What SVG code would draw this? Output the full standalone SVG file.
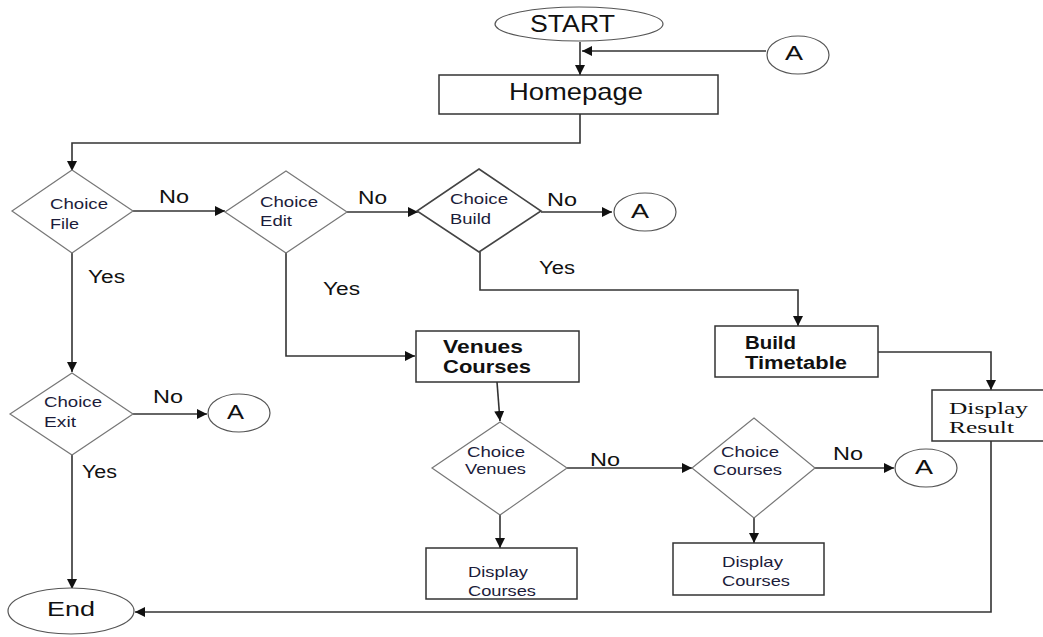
<svg xmlns="http://www.w3.org/2000/svg" width="1043" height="637" viewBox="0 0 1043 637">
<style>
text{font-family:"Liberation Sans",Arial,sans-serif;fill:#111}
.box{fill:#fff;stroke:#333;stroke-width:1.5}
.dia{fill:#fff;stroke:#777;stroke-width:1.2}
.dia2{fill:#fff;stroke:#444;stroke-width:1.6}
.ov{fill:#fff;stroke:#555;stroke-width:1.2}
.ln{fill:none;stroke:#333;stroke-width:1.6}
.dt{font-size:15px;fill:#1c1c3a}
.lb{font-size:18px}
.bt{font-size:18px;font-weight:bold}
.se{font-family:"Liberation Serif","Times New Roman",serif;font-size:17px}
.big{font-size:24px}
.a{font-size:21px}
</style>
<defs>
<marker id="ar" markerWidth="10" markerHeight="10" refX="10" refY="5" orient="auto" markerUnits="userSpaceOnUse" viewBox="0 0 10 10">
<path d="M0,0 L10,5 L0,10 z" fill="#111"/>
</marker>
</defs>
<g id="connectors">
<line class="ln" x1="580" y1="42" x2="580" y2="75" marker-end="url(#ar)"/>
<line class="ln" x1="766" y1="51" x2="582" y2="51" marker-end="url(#ar)"/>
<polyline class="ln" points="580,114 580,143 72,143 72,171" marker-end="url(#ar)"/>
<line class="ln" x1="133" y1="211" x2="225" y2="211" marker-end="url(#ar)"/>
<line class="ln" x1="347" y1="212" x2="418" y2="212" marker-end="url(#ar)"/>
<line class="ln" x1="541" y1="212" x2="612" y2="212" marker-end="url(#ar)"/>
<polyline class="ln" points="72,253 72,372" marker-end="url(#ar)"/>
<polyline class="ln" points="286,253 286,356 415,356" marker-end="url(#ar)"/>
<polyline class="ln" points="480,252 480,290 798,290 798,326" marker-end="url(#ar)"/>
<polyline class="ln" points="878,352 991,352 991,390" marker-end="url(#ar)"/>
<line class="ln" x1="133" y1="414" x2="207" y2="414" marker-end="url(#ar)"/>
<line class="ln" x1="72" y1="455" x2="72" y2="589" marker-end="url(#ar)"/>
<line class="ln" x1="497" y1="382" x2="500" y2="421" marker-end="url(#ar)"/>
<line class="ln" x1="567" y1="468" x2="692" y2="468" marker-end="url(#ar)"/>
<line class="ln" x1="815" y1="468" x2="894" y2="468" marker-end="url(#ar)"/>
<line class="ln" x1="500" y1="515" x2="500" y2="548" marker-end="url(#ar)"/>
<line class="ln" x1="754" y1="518" x2="754" y2="543" marker-end="url(#ar)"/>
<polyline class="ln" points="991,441 991,612 135,612" marker-end="url(#ar)"/>
</g>
<g id="labels">
<text class="lb" x="159" y="203" textLength="30" lengthAdjust="spacingAndGlyphs">No</text>
<text class="lb" x="358" y="204" textLength="29" lengthAdjust="spacingAndGlyphs">No</text>
<text class="lb" x="547" y="206" textLength="30" lengthAdjust="spacingAndGlyphs">No</text>
<text class="lb" x="88" y="283" textLength="37" lengthAdjust="spacingAndGlyphs">Yes</text>
<text class="lb" x="323" y="295" textLength="37" lengthAdjust="spacingAndGlyphs">Yes</text>
<text class="lb" x="539" y="274" textLength="36" lengthAdjust="spacingAndGlyphs">Yes</text>
<text class="lb" x="153" y="403" textLength="30" lengthAdjust="spacingAndGlyphs">No</text>
<text class="lb" x="82" y="478" textLength="35" lengthAdjust="spacingAndGlyphs">Yes</text>
<text class="lb" x="590" y="466" textLength="30" lengthAdjust="spacingAndGlyphs">No</text>
<text class="lb" x="833" y="460" textLength="30" lengthAdjust="spacingAndGlyphs">No</text>
</g>
<g id="start"><ellipse class="ov" cx="579" cy="24" rx="84" ry="17"/><text class="big" x="530" y="32" textLength="85" lengthAdjust="spacingAndGlyphs">START</text></g>
<g id="a1"><ellipse class="ov" cx="798" cy="55" rx="31" ry="19"/><text class="a" x="785" y="60" textLength="18" lengthAdjust="spacingAndGlyphs">A</text></g>
<g id="homepage"><rect class="box" x="439" y="75" width="279" height="39"/><text class="big" x="509" y="100" textLength="134" lengthAdjust="spacingAndGlyphs">Homepage</text></g>
<g id="choiceFile"><polygon class="dia" points="72,170 133,211 72,253 12,211"/><text class="dt" x="50" y="209" textLength="58" lengthAdjust="spacingAndGlyphs">Choice</text><text class="dt" x="50" y="229" textLength="29" lengthAdjust="spacingAndGlyphs">File</text></g>
<g id="choiceEdit"><polygon class="dia" points="286,171 347,212 286,253 225,212"/><text class="dt" x="260" y="207" textLength="58" lengthAdjust="spacingAndGlyphs">Choice</text><text class="dt" x="260" y="226" textLength="32" lengthAdjust="spacingAndGlyphs">Edit</text></g>
<g id="choiceBuild"><polygon class="dia2" points="479,169 541,211 479,252 417,211"/><text class="dt" x="450" y="204" textLength="58" lengthAdjust="spacingAndGlyphs">Choice</text><text class="dt" x="450" y="224" textLength="41" lengthAdjust="spacingAndGlyphs">Build</text></g>
<g id="a2"><ellipse class="ov" cx="645" cy="212" rx="31" ry="19"/><text class="a" x="631" y="218" textLength="18" lengthAdjust="spacingAndGlyphs">A</text></g>
<g id="choiceExit"><polygon class="dia" points="72,373 133,414 72,455 10,414"/><text class="dt" x="44" y="407" textLength="58" lengthAdjust="spacingAndGlyphs">Choice</text><text class="dt" x="44" y="427" textLength="32" lengthAdjust="spacingAndGlyphs">Exit</text></g>
<g id="a3"><ellipse class="ov" cx="239" cy="413" rx="31" ry="19"/><text class="a" x="227" y="419" textLength="17" lengthAdjust="spacingAndGlyphs">A</text></g>
<g id="end"><ellipse class="ov" cx="71" cy="611" rx="63" ry="23"/><text x="47" y="616" font-size="21" textLength="48" lengthAdjust="spacingAndGlyphs">End</text></g>
<g id="venuesCourses"><rect class="box" x="416" y="331" width="163" height="51"/><text class="bt" x="443" y="353" textLength="80" lengthAdjust="spacingAndGlyphs">Venues</text><text class="bt" x="443" y="373" textLength="88" lengthAdjust="spacingAndGlyphs">Courses</text></g>
<g id="buildTimetable"><rect class="box" x="715" y="326" width="163" height="51"/><text class="bt" x="745" y="349" textLength="51" lengthAdjust="spacingAndGlyphs">Build</text><text class="bt" x="745" y="369" textLength="102" lengthAdjust="spacingAndGlyphs">Timetable</text></g>
<g id="displayResult"><rect class="box" x="932" y="390" width="115" height="51"/><text class="se" x="949" y="414" textLength="79" lengthAdjust="spacingAndGlyphs">Display</text><text class="se" x="949" y="433" textLength="65" lengthAdjust="spacingAndGlyphs">Result</text></g>
<g id="choiceVenues"><polygon class="dia" points="500,422 567,468 500,515 432,468"/><text class="dt" x="467" y="457" textLength="58" lengthAdjust="spacingAndGlyphs">Choice</text><text class="dt" x="465" y="474" textLength="61" lengthAdjust="spacingAndGlyphs">Venues</text></g>
<g id="choiceCourses"><polygon class="dia" points="754,418 815,468 754,518 692,468"/><text class="dt" x="721" y="457" textLength="58" lengthAdjust="spacingAndGlyphs">Choice</text><text class="dt" x="713" y="475" textLength="69" lengthAdjust="spacingAndGlyphs">Courses</text></g>
<g id="a4"><ellipse class="ov" cx="926" cy="468" rx="31" ry="19"/><text class="a" x="915" y="474" textLength="18" lengthAdjust="spacingAndGlyphs">A</text></g>
<g id="displayCourses1"><rect class="box" x="426" y="548" width="151" height="51"/><text class="dt" x="468" y="577" textLength="60" lengthAdjust="spacingAndGlyphs">Display</text><text class="dt" x="468" y="596" textLength="68" lengthAdjust="spacingAndGlyphs">Courses</text></g>
<g id="displayCourses2"><rect class="box" x="673" y="543" width="151" height="52"/><text class="dt" x="722" y="567" textLength="61" lengthAdjust="spacingAndGlyphs">Display</text><text class="dt" x="722" y="586" textLength="68" lengthAdjust="spacingAndGlyphs">Courses</text></g>
</svg>
